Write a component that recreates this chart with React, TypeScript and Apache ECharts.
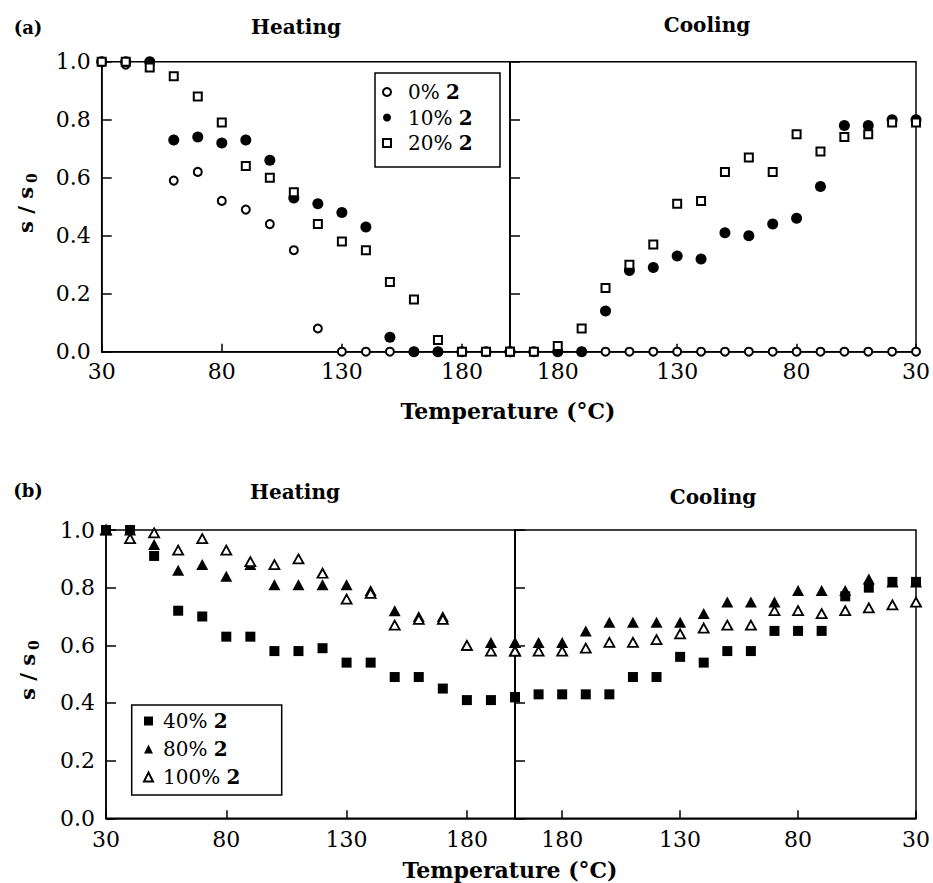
import React, { useEffect, useRef } from "react";
import * as echarts from "echarts";

// ---------- data ----------
const heatTemps = [30, 40, 50, 60, 70, 80, 90, 100, 110, 120, 130, 140, 150, 160, 170, 180, 190, 200];
const coolTemps = [200, 190, 180, 170, 160, 150, 140, 130, 120, 110, 100, 90, 80, 70, 60, 50, 40, 30];
const xTickInterval = 50;
const yTicks = [0, 0.2, 0.4, 0.6, 0.8, 1.0];

// panel (a)
const a0Heat = [1.0, 0.99, 1.0, 0.59, 0.62, 0.52, 0.49, 0.44, 0.35, 0.08, 0, 0, 0, 0, 0, 0, 0, 0];
const a10Heat = [1.0, 1.0, 1.0, 0.73, 0.74, 0.72, 0.73, 0.66, 0.53, 0.51, 0.48, 0.43, 0.05, 0, 0, 0, 0, 0];
const a20Heat = [1.0, 1.0, 0.98, 0.95, 0.88, 0.79, 0.64, 0.6, 0.55, 0.44, 0.38, 0.35, 0.24, 0.18, 0.04, 0, 0, 0];
const a0Cool = [0, 0, 0, 0, 0, 0, 0, 0, 0, 0, 0, 0, 0, 0, 0, 0, 0, 0];
const a10Cool = [0, 0, 0, 0, 0.14, 0.28, 0.29, 0.33, 0.32, 0.41, 0.4, 0.44, 0.46, 0.57, 0.78, 0.78, 0.8, 0.8];
const a20Cool = [0, 0, 0.02, 0.08, 0.22, 0.3, 0.37, 0.51, 0.52, 0.62, 0.67, 0.62, 0.75, 0.69, 0.74, 0.75, 0.79, 0.79];

// panel (b)
const b40Heat = [1.0, 1.0, 0.91, 0.72, 0.7, 0.63, 0.63, 0.58, 0.58, 0.59, 0.54, 0.54, 0.49, 0.49, 0.45, 0.41, 0.41, 0.42];
const b80Heat = [1.0, 1.0, 0.95, 0.86, 0.88, 0.84, 0.88, 0.81, 0.81, 0.81, 0.81, 0.79, 0.72, 0.7, 0.7, 0.6, 0.61, 0.61];
const b100Heat = [1.0, 0.97, 0.99, 0.93, 0.97, 0.93, 0.89, 0.88, 0.9, 0.85, 0.76, 0.78, 0.67, 0.69, 0.69, 0.6, 0.58, 0.58];
const b40Cool = [0.42, 0.43, 0.43, 0.43, 0.43, 0.49, 0.49, 0.56, 0.54, 0.58, 0.58, 0.65, 0.65, 0.65, 0.77, 0.8, 0.82, 0.82];
const b80Cool = [0.61, 0.61, 0.61, 0.65, 0.68, 0.68, 0.68, 0.68, 0.71, 0.75, 0.75, 0.75, 0.79, 0.79, 0.79, 0.83, 0.82, 0.82];
const b100Cool = [0.58, 0.58, 0.58, 0.59, 0.61, 0.61, 0.62, 0.64, 0.66, 0.67, 0.67, 0.72, 0.72, 0.71, 0.72, 0.73, 0.74, 0.75];

const legendA = ["0% 2", "10% 2", "20% 2"];
const legendB = ["40% 2", "80% 2", "100% 2"];

// ---------- styles ----------
const FONT = "DejaVu Serif";
const BLACK = "#000";

const pair = (temps: number[], vals: number[]) => temps.map((t, i) => [t, vals[i]]);

const markerStyles: Record<string, any> = {
  "0% 2": { symbol: "circle", symbolSize: 8, itemStyle: { color: "#fff", borderColor: BLACK, borderWidth: 2, opacity: 1 } },
  "10% 2": { symbol: "circle", symbolSize: 11, itemStyle: { color: BLACK, borderColor: BLACK, borderWidth: 0, opacity: 1 } },
  "20% 2": { symbol: "rect", symbolSize: 8, itemStyle: { color: "#fff", borderColor: BLACK, borderWidth: 2, opacity: 1 } },
  "40% 2": { symbol: "rect", symbolSize: 10, itemStyle: { color: BLACK, borderColor: BLACK, borderWidth: 0, opacity: 1 } },
  "80% 2": { symbol: "triangle", symbolSize: [12, 11], itemStyle: { color: BLACK, borderColor: BLACK, borderWidth: 0, opacity: 1 } },
  "100% 2": { symbol: "triangle", symbolSize: [10, 9], itemStyle: { color: "#fff", borderColor: BLACK, borderWidth: 1.8, opacity: 1 } },
};

function mkSeries(name: string, temps: number[], vals: number[], axisIndex: number, z: number) {
  return {
    type: "scatter",
    name,
    xAxisIndex: axisIndex,
    yAxisIndex: axisIndex,
    data: pair(temps, vals),
    clip: false,
    z,
    emphasis: { disabled: true },
    ...markerStyles[name],
  };
}

const grids = [
  { left: 101.7, top: 61.7, width: 408.3, height: 290 },
  { left: 510, top: 61.7, width: 408, height: 290 },
  { left: 106, top: 530, width: 409, height: 288.3 },
  { left: 515, top: 530, width: 406.7, height: 288.3 },
];

function mkXAxis(gridIndex: number, inverse: boolean, margin: number) {
  return {
    type: "value",
    gridIndex,
    min: 30,
    max: 200,
    interval: xTickInterval,
    inverse,
    axisLine: { show: true, onZero: false, lineStyle: { color: BLACK, width: 1.5 } },
    axisTick: { show: true, inside: true, length: 8, lineStyle: { color: BLACK, width: 1.5 } },
    axisLabel: {
      show: true,
      margin,
      color: BLACK,
      fontFamily: FONT,
      fontSize: 22,
      formatter: (v: number) => (v === 200 ? "" : String(v)),
    },
    splitLine: { show: false },
  };
}

function mkYAxis(gridIndex: number, showLabels: boolean) {
  return {
    type: "value",
    gridIndex,
    min: yTicks[0],
    max: yTicks[yTicks.length - 1],
    interval: 0.2,
    axisLine: { show: true, lineStyle: { color: BLACK, width: 1.5 } },
    axisTick: { show: true, inside: true, length: 10, lineStyle: { color: BLACK, width: 1.5 } },
    axisLabel: {
      show: showLabels,
      margin: 11,
      color: BLACK,
      fontFamily: FONT,
      fontSize: 22,
      formatter: (v: number) => v.toFixed(1),
    },
    splitLine: { show: false },
  };
}

const legendRich = (spacer: number) => ({
  sp: { width: spacer, fontSize: 20, lineHeight: 22 },
  n: { fontFamily: FONT, fontSize: 20, color: BLACK, lineHeight: 22 },
  b: { fontFamily: FONT, fontSize: 20, fontWeight: "bold", color: BLACK, lineHeight: 22 },
});

const legendFormatter = (name: string) => {
  const parts = name.split(" ");
  return `{sp|}{n|${parts[0]} }{b|${parts[1]}}`;
};

function titleText(text: string, x: number, y: number, size = 20) {
  return {
    type: "text",
    x,
    y,
    style: {
      text,
      fontFamily: FONT,
      fontWeight: "bold",
      fontSize: size,
      fill: BLACK,
      align: "center",
      verticalAlign: "middle",
    },
  };
}

function yName(x: number, y: number) {
  return {
    type: "group",
    x,
    y,
    rotation: Math.PI / 2,
    children: [
      {
        type: "text",
        x: -5,
        y: 0,
        style: { text: "s / s", fontFamily: FONT, fontWeight: "bold", fontSize: 21, fill: BLACK, align: "center", verticalAlign: "middle" },
      },
      {
        type: "text",
        x: 27,
        y: 7,
        style: { text: "0", fontFamily: FONT, fontWeight: "bold", fontSize: 14, fill: BLACK, align: "center", verticalAlign: "middle" },
      },
    ],
  };
}

export default function App() {
  const ref = useRef<HTMLDivElement>(null);
  useEffect(() => {
    if (!ref.current) return;
    const chart = echarts.init(ref.current, undefined, { renderer: "svg" });
    const option = {
      animation: false,
      backgroundColor: "#fff",
      grid: grids.map((g) => ({ ...g, show: true, borderColor: BLACK, borderWidth: 1.5, backgroundColor: "transparent" })),
      xAxis: [mkXAxis(0, false, 9), mkXAxis(1, true, 9), mkXAxis(2, false, 10), mkXAxis(3, true, 10)],
      yAxis: [mkYAxis(0, true), mkYAxis(1, false), mkYAxis(2, true), mkYAxis(3, false)],
      legend: [
        {
          data: legendA,
          orient: "vertical",
          left: 382,
          top: 82,
          padding: 0,
          itemWidth: 8,
          itemHeight: 8,
          itemGap: 5.5,
          selectedMode: false,
          formatter: legendFormatter,
          textStyle: { rich: legendRich(12) },
        },
        {
          data: legendB,
          orient: "vertical",
          left: 143,
          top: 711,
          padding: 0,
          itemWidth: 9,
          itemHeight: 9,
          itemGap: 8,
          selectedMode: false,
          formatter: legendFormatter,
          textStyle: { rich: legendRich(5) },
        },
      ],
      graphic: [
        { type: "rect", shape: { x: 375, y: 73, width: 125, height: 94 }, style: { fill: "none", stroke: BLACK, lineWidth: 1.5 } },
        { type: "rect", shape: { x: 131.7, y: 705, width: 150, height: 90 }, style: { fill: "none", stroke: BLACK, lineWidth: 1.5 } },
        titleText("(a)", 28, 27, 18),
        titleText("Heating", 296, 27),
        titleText("Cooling", 707, 25),
        titleText("Temperature (°C)", 508, 411, 22),
        titleText("(b)", 28, 490, 18),
        titleText("Heating", 295, 492),
        titleText("Cooling", 713, 497),
        titleText("Temperature (°C)", 510, 870, 22),
        yName(25, 205),
        yName(27, 672),
      ],
      series: [
        mkSeries("0% 2", heatTemps, a0Heat, 0, 2),
        mkSeries("10% 2", heatTemps, a10Heat, 0, 3),
        mkSeries("20% 2", heatTemps, a20Heat, 0, 4),
        mkSeries("0% 2", coolTemps, a0Cool, 1, 2),
        mkSeries("10% 2", coolTemps, a10Cool, 1, 3),
        mkSeries("20% 2", coolTemps, a20Cool, 1, 4),
        mkSeries("80% 2", heatTemps, b80Heat, 2, 2),
        mkSeries("100% 2", heatTemps, b100Heat, 2, 3),
        mkSeries("40% 2", heatTemps, b40Heat, 2, 4),
        mkSeries("80% 2", coolTemps, b80Cool, 3, 2),
        mkSeries("100% 2", coolTemps, b100Cool, 3, 3),
        mkSeries("40% 2", coolTemps, b40Cool, 3, 4),
      ],
    };
    chart.setOption(option as any);
    return () => chart.dispose();
  }, []);
  return <div ref={ref} style={{ position: "absolute", left: 0, top: 0, width: 933, height: 883 }} />;
}
